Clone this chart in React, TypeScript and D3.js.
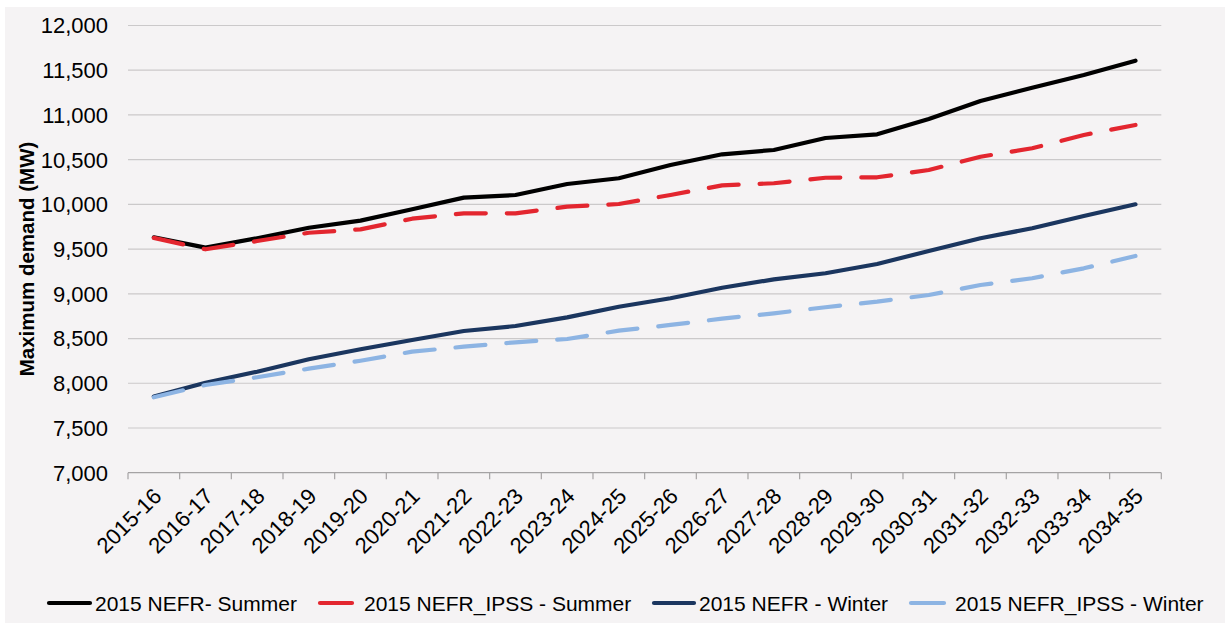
import React from "react";
import * as d3 from "d3";

const categories = ["2015-16","2016-17","2017-18","2018-19","2019-20","2020-21","2021-22","2022-23","2023-24","2024-25","2025-26","2026-27","2027-28","2028-29","2029-30","2030-31","2031-32","2032-33","2033-34","2034-35"];
const nefrSummer = [9632, 9516, 9621, 9739, 9818, 9945, 10075, 10105, 10228, 10292, 10440, 10560, 10608, 10742, 10783, 10955, 11156, 11305, 11447, 11607];
const ipssSummer = [9625, 9498, 9590, 9683, 9721, 9840, 9900, 9900, 9974, 10004, 10105, 10213, 10236, 10298, 10303, 10384, 10533, 10627, 10776, 10888];
const nefrWinter = [7853, 8006, 8129, 8268, 8380, 8484, 8584, 8640, 8737, 8856, 8950, 9068, 9162, 9230, 9333, 9479, 9621, 9733, 9870, 10001];
const ipssWinter = [7843, 7981, 8067, 8163, 8252, 8353, 8409, 8458, 8495, 8588, 8652, 8722, 8782, 8850, 8912, 8987, 9099, 9174, 9285, 9423];
const yTicks = [7000, 7500, 8000, 8500, 9000, 9500, 10000, 10500, 11000, 11500, 12000];
const seriesNames = ["2015 NEFR- Summer", "2015 NEFR_IPSS - Summer", "2015 NEFR - Winter", "2015 NEFR_IPSS - Winter"];

const W = 1225, H = 623;
const FONT = "'Liberation Sans', Arial, Helvetica, sans-serif";

export default function App() {
  const x = d3.scaleBand().domain(categories).range([128, 1161.3]).padding(0);
  const y = d3.scaleLinear().domain([7000, 12000]).range([472.7, 25.5]);
  const cx = (c: string) => (x(c) as number) + x.bandwidth() / 2;
  const line = d3.line<number>().x((_, i) => cx(categories[i])).y((d) => y(d));

  const series = [
    { name: seriesNames[0], data: nefrSummer, color: "#000000", dash: null },
    { name: seriesNames[1], data: ipssSummer, color: "#e3262f", dash: "30 21" },
    { name: seriesNames[2], data: nefrWinter, color: "#1b365f", dash: null },
    { name: seriesNames[3], data: ipssWinter, color: "#8db4e3", dash: "30 21" },
  ];
  const legendLine = [[47, 92], [318, 354], [652, 696], [909, 946]];
  const legendText = [95, 364, 699, 955];
  const fmt = d3.format(",");
  const axisY = y(7000);

  return (
    <div style={{ position: "fixed", left: 0, top: 0 }}>
      <svg width={W} height={H} style={{ display: "block" }} fontFamily={FONT}>
        <rect x={0} y={0} width={W} height={H} fill="#ffffff" />
        <rect x={5} y={7} width={W - 5} height={H - 7} fill="#f5f3f4" />
        {yTicks.filter((t) => t !== 7000).map((t) => (
          <line key={t} x1={128} x2={1161.3} y1={y(t)} y2={y(t)} stroke="#cbc9ca" strokeWidth={1.2} />
        ))}
        <line x1={128} x2={1161.3} y1={axisY} y2={axisY} stroke="#a5a3a4" strokeWidth={1.2} />
        {categories.concat([""]).map((c, i) => {
          const xx = 128 + i * x.bandwidth();
          return <line key={"t" + i} x1={xx} x2={xx} y1={axisY} y2={axisY + 6.5} stroke="#a5a3a4" strokeWidth={1.2} />;
        })}
        {yTicks.map((t) => (
          <text key={"yl" + t} x={108} y={y(t)} dy="0.36em" textAnchor="end" fontSize={22} fill="#000">{fmt(t)}</text>
        ))}
        <text transform={`translate(33.5,259) rotate(-90)`} textAnchor="middle" fontSize={20.5} fontWeight="bold" fill="#000">Maximum demand (MW)</text>
        {categories.map((c) => (
          <text key={"xl" + c} transform={`translate(${cx(c) + 9},${axisY + 25}) rotate(-45)`} textAnchor="end" fontSize={22} fill="#000">{c}</text>
        ))}
        {series.map((s) => (
          <path key={s.name} d={line(s.data) as string} fill="none" stroke={s.color} strokeWidth={4.2}
            strokeDasharray={s.dash ?? undefined} strokeLinecap="round" strokeLinejoin="round" />
        ))}
        {series.map((s, i) => (
          <g key={"lg" + i}>
            <line x1={legendLine[i][0] + 2} x2={legendLine[i][1] - 2} y1={603} y2={603} stroke={s.color} strokeWidth={4.2} strokeLinecap="round" />
            <text x={legendText[i]} y={603} dy="0.36em" fontSize={21} fill="#000">{s.name}</text>
          </g>
        ))}
      </svg>
    </div>
  );
}
